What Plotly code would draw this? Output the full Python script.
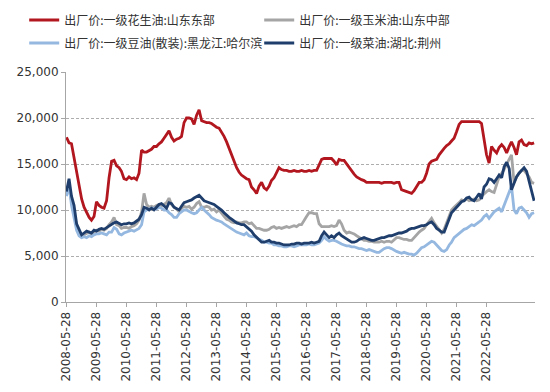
import plotly.graph_objects as go
import pandas as pd

# Monthly readings, starting 2008-05 (one value per month)
start_date = "2008-05-28"

peanut_shandong = [
    17900, 17300, 17200, 15600, 14200, 12500, 11200, 10300, 9700, 9200, 8900, 9300,
    10900, 10500, 10300, 10200, 11000, 13500, 15300, 15400, 14800, 14600, 14200, 13400,
    13300, 13600, 13400, 13500, 13300, 14000, 16500, 16300, 16300, 16500, 16600, 16900,
    16900, 17200, 17400, 17800, 18200, 18600, 17900, 17500, 17700, 17800, 18000, 19500,
    20000, 20000, 19900, 19300, 20300, 20900, 19700, 19600, 19500, 19500, 19400, 19200,
    19000, 18900, 18500, 18000, 17400, 16700, 15800, 15300, 14600, 14100, 13800, 13600,
    13400, 13300, 12500, 12200, 11800, 12600, 13000, 12400, 12200, 12600, 13200, 13500,
    14000, 14600, 14400, 14300, 14300, 14200, 14200, 14300, 14200, 14200, 14300, 14200,
    14200, 14300, 14200, 14300, 14300, 15000, 15500, 15600, 15600, 15600, 15600, 15300,
    14900, 15500, 15400, 15400, 15000, 14600, 14200, 13900, 13600, 13400, 13300, 13200,
    13000, 13000, 13000, 13000, 13000, 13000, 12900, 13000, 13000, 13000, 13000, 12900,
    13000, 13000, 12200, 12100, 12000, 11900, 11800, 12100, 12600, 13000, 13000, 13300,
    14000, 15000, 15300, 15400, 15500, 16000, 16400, 16700, 17000, 17200, 17500, 17800,
    18500, 19300, 19600, 19600, 19600, 19600, 19600, 19600, 19600, 19600, 19400, 17500,
    16000, 15100, 16900, 16500, 16200, 16800, 17100, 16800, 16200, 16900, 17400, 16800,
    16000, 17400, 17600, 17100, 17000, 17300, 17200, 17300,
]

corn_shandong = [
    11800, 12300, 11000, 9500, 8300, 7600, 7200, 7300, 7500, 7600, 7400, 7600,
    7800, 7700, 7900, 7800, 8000, 8400, 8700, 9200, 8400, 8300, 8000, 8100,
    8100, 8000, 8200, 8300, 8500, 8900, 9800, 11800, 10600, 10300, 10400, 10300,
    10500, 10600, 10500, 10600, 10800, 11300, 10600, 10300, 10100, 9800, 10200, 10400,
    10300, 10400, 10100, 10300, 10700, 10900, 10300, 10300, 10400, 10300, 10000, 10100,
    9800, 10000, 9600, 9300, 9000, 8900, 8700, 8600, 8700, 8600, 8600, 8700,
    8700, 8500, 8600, 8300, 8000, 8000, 7900, 7800, 7800, 7900, 8100, 8200,
    8000, 8100, 8000, 8100, 8200, 8100, 8200, 8300, 8200, 8400, 8400, 8900,
    9300, 9700, 9700, 9600, 9600, 8500, 8200, 8200, 8200, 8200, 8300, 8200,
    8300, 8900, 8500, 7800, 7500, 7600, 7500, 7400, 7200, 7000, 6900, 6700,
    6700, 6600, 6600, 6500, 6500, 6500, 6600, 6500, 6600, 6600, 6500, 6800,
    7000, 7000, 6900, 6800, 6800, 6700, 6700, 7000, 7400, 7600, 7800, 8000,
    8400, 8800, 9100, 8600, 8200, 7800, 7500, 7900, 8600, 9400, 10000, 10300,
    10500, 10800, 11100, 11000, 11200, 11000, 11100, 11200, 11000, 11100, 11500, 11800,
    12000, 12200, 12000, 11900, 12800, 13600, 14000, 14400, 15000, 15500, 16000, 13000,
    13600, 14000, 14300, 14300, 14000, 13600, 13000, 12900,
]

soybean_harbin = [
    11500, 12800, 10500, 9000, 7800, 7200, 7000, 7100, 7000, 7200, 7100, 7300,
    7400, 7400, 7500, 7400, 7300, 7600, 7600, 8100, 7900, 7400, 7300, 7500,
    7600, 7700, 7800, 7700, 7900, 8000, 8400, 9800, 10000, 10100, 10200, 10200,
    10100, 10300, 10200, 10000, 10000, 9700, 9500, 9200, 9200, 9600, 9800, 10000,
    10000, 9800, 9700, 9600, 9700, 10000, 10300, 10000, 9800, 9500, 9200, 9000,
    8900, 8800, 8700, 8500, 8300, 8100, 7900, 7800, 7600, 7500, 7400, 7300,
    7500, 7200, 7100, 7100, 7000, 6800, 6700, 6500, 6500, 6400, 6400, 6200,
    6200, 6100, 6100, 6000, 6000, 6100, 6100, 6000, 6100, 6200, 6200, 6200,
    6200, 6300, 6200, 6200, 6300, 6400, 6700, 7100, 6800, 6600, 6700, 6700,
    6600, 6400, 6300, 6200, 6100, 6100, 6000, 6000, 5900, 5800, 5800, 5700,
    5600, 5700, 5600, 5500, 5400, 5400, 5600, 5800, 5900, 5900, 5800, 5600,
    5500, 5400, 5300, 5400, 5300, 5200, 5200, 5100, 5300, 5600, 5900, 6000,
    6200, 6400, 6600, 6500, 6200, 5800, 5600, 5500, 5700, 6200, 6500, 7000,
    7200, 7500, 7700, 7900, 8000, 8200, 8400, 8300, 8500, 8700, 8900, 9300,
    9500, 9100, 9500, 9800, 10000, 10200, 9800, 10500, 11100, 12000, 12600, 10000,
    9600, 10200, 10300, 10000, 9700, 9200, 9600, 9700,
]

rapeseed_hubei = [
    12000, 13400, 11500, 10500, 8500, 7800, 7300, 7500, 7700, 7600, 7500, 7800,
    7700, 7900, 8000, 7900, 8100, 8200, 8400, 8600, 8700, 8500, 8400, 8500,
    8500, 8600, 8500, 8600, 8800, 9000, 9500, 10300, 10200, 10000, 10200, 10000,
    10300, 10600, 10700, 10400, 10200, 10800, 10700, 10300, 10100, 10000, 10400, 10800,
    10900, 11000, 11100, 11300, 11500, 11600, 11300, 11000, 10900, 10800, 10700, 10600,
    10400, 10200, 10000, 9700, 9400, 9200, 9000, 8800, 8600, 8500, 8400, 8400,
    8200, 7900, 7700, 7300, 7000, 6700, 6500, 6500, 6600, 6700, 6500, 6500,
    6400, 6400, 6300, 6200, 6200, 6200, 6300, 6300, 6400, 6400, 6300, 6400,
    6400, 6400, 6500, 6400, 6500, 6600, 7200, 7600, 7300, 7000, 7200, 7000,
    7300, 7500, 7200, 7000, 6800, 6600, 6500, 6500, 6600, 6800, 6900, 7000,
    6900, 6800, 6700, 6700, 6800, 6900, 7000, 7000, 7100, 7200, 7200, 7300,
    7400, 7500, 7500, 7600, 7700, 7900, 8000, 8000, 8100, 8200, 8300, 8300,
    8400, 8600, 8700, 8400, 8000, 7800, 7600, 7600, 8300, 9200, 9700, 10000,
    10300, 10600, 10900, 11000, 11300, 11400, 11100, 11000, 11400, 11800, 11200, 12500,
    12800, 13400, 13300, 13000, 13400, 13800, 13500, 14700, 15200, 14500, 12200, 13000,
    13600, 14000, 14300, 14600, 14200, 13200, 12000, 11000,
]

series_names = [
    "出厂价:一级花生油:山东东部",
    "出厂价:一级玉米油:山东中部",
    "出厂价:一级豆油(散装):黑龙江:哈尔滨",
    "出厂价:一级菜油:湖北:荆州",
]
series_values = [peanut_shandong, corn_shandong, soybean_harbin, rapeseed_hubei]
series_colors = ["#B2161E", "#A5A5A5", "#95B8E0", "#1F3E6C"]
series_legend = ["legend", "legend", "legend2", "legend2"]

tick_labels = [f"{y}-05-28" for y in range(2008, 2023)]
y_ticks = [0, 5000, 10000, 15000, 20000, 25000]

fig = go.Figure()
for name, vals, col, lg in zip(series_names, series_values, series_colors, series_legend):
    dates = pd.date_range(start=start_date, periods=len(vals), freq=pd.DateOffset(months=1))
    fig.add_trace(go.Scatter(
        x=dates, y=vals, mode="lines", name=name, legend=lg,
        line=dict(color=col, width=2.8),
    ))

cjk = "Noto Sans CJK SC, Noto Sans, sans-serif"
num = "DejaVu Sans, sans-serif"
legend_common = dict(
    orientation="h", xref="container", yref="container",
    xanchor="left", yanchor="middle",
    entrywidth=190, entrywidthmode="pixels", itemwidth=30,
    font=dict(size=12, color="#333333", family=cjk),
    bgcolor="rgba(0,0,0,0)", borderwidth=0,
)
fig.update_layout(
    template="none",
    width=550, height=392,
    margin=dict(l=66, r=15, t=72, b=90, autoexpand=False),
    paper_bgcolor="white", plot_bgcolor="white",
    font=dict(family=cjk, size=12, color="#333333"),
    showlegend=True,
    legend=dict(x=0.044, y=1 - 20 / 392, **legend_common),
    legend2=dict(x=0.044, y=1 - 43 / 392, **legend_common),
    xaxis=dict(
        type="date",
        range=["2008-05-22", "2024-01-08"],
        tickvals=list(pd.to_datetime(tick_labels)),
        ticktext=tick_labels,
        tickangle=-90,
        showgrid=False,
        showline=True, linecolor="#A6A6A6", linewidth=1,
        ticks="outside", ticklen=4, tickcolor="#A6A6A6",
        tickfont=dict(size=12, color="#333333", family=num),
        zeroline=False, automargin=False,
    ),
    yaxis=dict(
        range=[0, 25000],
        tickvals=y_ticks,
        tickformat=",",
        showgrid=True, gridcolor="#999999", griddash="3px,2px", gridwidth=0.8,
        showline=True, linecolor="#A6A6A6", linewidth=1,
        ticks="outside", ticklen=4, tickcolor="#A6A6A6",
        tickfont=dict(size=12, color="#333333", family=num),
        zeroline=False, automargin=False,
    ),
)

fig.write_html(
    "out.html",
    config={"displayModeBar": False, "staticPlot": True},
    post_script="document.body.style.margin='0';document.body.style.padding='0';",
)
